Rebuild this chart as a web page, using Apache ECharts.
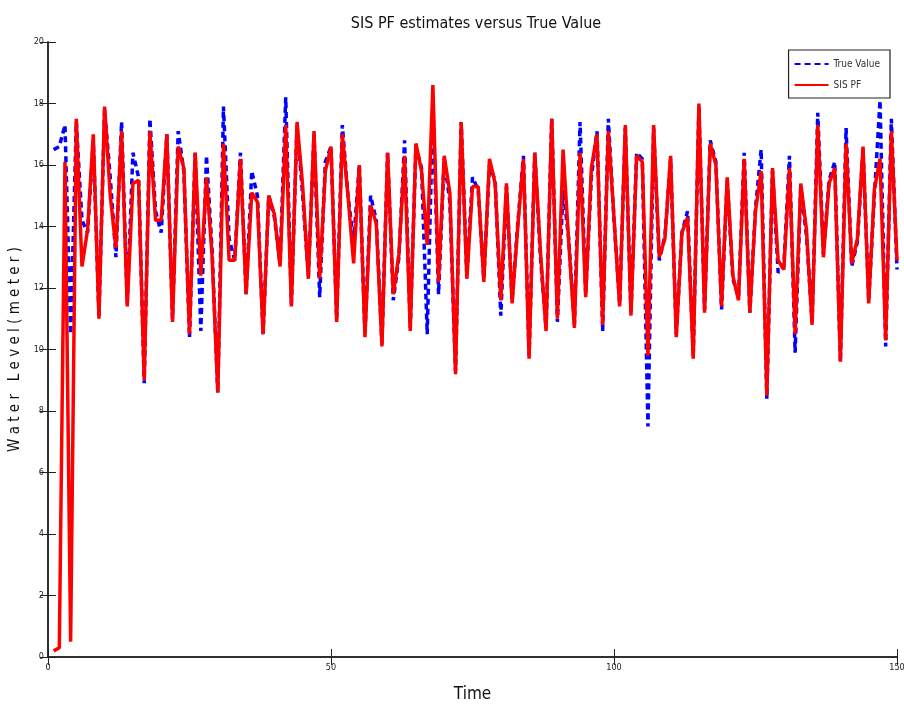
<!DOCTYPE html>
<html>
<head>
<meta charset="utf-8">
<script src="https://cdn.jsdelivr.net/npm/echarts@6/dist/echarts.min.js"></script>
<style>
html, body { margin: 0; padding: 0; background: #fff; }
#chart { width: 904px; height: 706px; }
</style>
</head>
<body>
<div id="chart"></div>
<script>
// time steps 1..150
var trueValue = [
  16.5, 16.6, 17.3, 10.5, 17.4, 14.2, 13.8, 16.8, 11.1, 17.8,
  15.6, 13.0, 17.4, 11.5, 16.4, 15.6, 8.9, 17.5, 14.5, 13.8,
  17.0, 11.0, 17.1, 15.8, 10.4, 16.4, 10.6, 16.3, 13.2, 8.6,
  17.9, 13.6, 12.9, 16.4, 11.8, 15.8, 15.0, 10.5, 15.0, 14.3,
  12.8, 18.2, 11.5, 17.3, 15.0, 12.4, 17.0, 11.7, 16.1, 16.6,
  11.0, 17.3, 15.0, 13.5, 16.0, 10.5, 15.0, 14.2, 10.2, 16.4,
  11.6, 13.0, 16.8, 10.7, 16.6, 15.9, 10.5, 17.9, 11.8, 16.2,
  14.8, 9.3, 17.4, 12.4, 15.6, 15.2, 12.3, 16.0, 15.5, 11.1,
  15.3, 11.6, 14.1, 16.3, 9.8, 16.4, 13.0, 10.7, 17.5, 10.9,
  15.2, 13.6, 10.8, 17.4, 11.8, 15.6, 17.1, 10.6, 17.5, 14.2,
  11.5, 17.2, 11.2, 16.4, 16.2, 7.5, 17.2, 12.9, 13.7, 16.2,
  10.5, 13.8, 14.5, 9.8, 17.9, 11.3, 16.8, 16.1, 11.3, 15.5,
  12.3, 11.7, 16.4, 11.2, 14.6, 16.5, 8.4, 15.8, 12.5, 12.7,
  16.3, 9.9, 15.3, 13.7, 10.9, 17.7, 13.1, 15.5, 16.1, 9.6,
  17.2, 12.7, 13.5, 16.5, 11.6, 15.0, 18.1, 10.1, 17.5, 12.6
];
var sisPF = [
  0.2, 0.3, 16.1, 0.5, 17.5, 12.7, 13.9, 17.0, 11.0, 17.9,
  15.0, 13.3, 17.1, 11.4, 15.4, 15.5, 9.0, 17.1, 14.2, 14.2,
  17.0, 10.9, 16.6, 15.9, 10.5, 16.4, 12.4, 15.6, 13.0, 8.6,
  16.7, 12.9, 12.9, 16.2, 11.8, 15.1, 14.8, 10.5, 15.0, 14.4,
  12.7, 17.3, 11.4, 17.4, 15.3, 12.3, 17.1, 12.3, 15.8, 16.6,
  10.9, 17.0, 15.0, 12.8, 16.0, 10.4, 14.7, 14.1, 10.1, 16.4,
  11.8, 13.1, 16.3, 10.6, 16.7, 15.8, 13.4, 18.6, 12.2, 16.3,
  15.1, 9.2, 17.4, 12.3, 15.3, 15.3, 12.2, 16.2, 15.4, 11.6,
  15.4, 11.5, 14.0, 16.2, 9.7, 16.4, 13.2, 10.6, 17.5, 11.0,
  16.5, 13.5, 10.7, 16.4, 11.7, 15.9, 17.0, 10.8, 17.1, 14.3,
  11.4, 17.3, 11.1, 16.3, 16.1, 9.8, 17.3, 13.0, 13.6, 16.3,
  10.4, 13.8, 14.3, 9.7, 18.0, 11.2, 16.7, 16.0, 11.4, 15.6,
  12.4, 11.6, 16.2, 11.2, 14.5, 15.8, 8.5, 15.9, 12.9, 12.6,
  15.9, 10.5, 15.4, 13.9, 10.8, 17.3, 13.0, 15.4, 15.9, 9.6,
  16.7, 12.8, 13.6, 16.6, 11.5, 15.2, 16.2, 10.3, 17.1, 12.9
];
var xTicks = [0, 50, 100, 150];
var yTicks = [0, 2, 4, 6, 8, 10, 12, 14, 16, 18, 20];

var trueData = [];
var pfData = [];
for (var i = 0; i < trueValue.length; i++) {
  trueData.push([i + 1, trueValue[i]]);
  pfData.push([i + 1, sisPF[i]]);
}

var narrow = '"Liberation Sans Narrow", "DejaVu Sans Condensed", "Liberation Sans", Arial, sans-serif';
var labelStyle = { color: '#222', fontSize: 9, fontFamily: narrow };

var chart = echarts.init(document.getElementById('chart'));
chart.setOption({
  animation: false,
  backgroundColor: '#fff',
  title: {
    text: 'SIS PF estimates versus True Value',
    left: 471,
    top: 11,
    textAlign: 'center',
    textStyle: { fontSize: 16, fontWeight: 'normal', color: '#111', fontFamily: narrow }
  },
  legend: {
    orient: 'vertical',
    right: 14,
    top: 50,
    itemWidth: 34,
    itemHeight: 10,
    itemGap: 11,
    padding: [9, 10, 8, 5],
    borderColor: '#222',
    borderWidth: 1.2,
    backgroundColor: '#fff',
    itemStyle: { opacity: 0 },
    textStyle: { fontSize: 10, color: '#333', fontFamily: narrow },
    data: ['True Value', 'SIS PF']
  },
  grid: { left: 48, right: 7, top: 42, bottom: 49, outerBoundsMode: 'none' },
  xAxis: [{
    type: 'value', min: 0, max: 150, interval: 50,
    name: 'Time', nameLocation: 'middle', nameGap: 29,
    nameTextStyle: { fontSize: 17, color: '#111', fontFamily: narrow },
    axisLine: { show: true, lineStyle: { color: '#222', width: 1.5 } },
    axisTick: { inside: true, length: 8, lineStyle: { color: '#222' } },
    axisLabel: Object.assign({ margin: 6 }, labelStyle),
    splitLine: { show: false }
  }, {
    type: 'value', min: 0, max: 150, interval: 50, position: 'top',
    axisLine: { show: true, lineStyle: { color: '#222', width: 1.5 } },
    axisTick: { inside: true, length: 8, lineStyle: { color: '#222' } },
    axisLabel: { show: false },
    splitLine: { show: false }
  }],
  yAxis: [{
    type: 'value', min: 0, max: 20, interval: 2,
    name: 'W a t e r   L e v e l ( m e t e r )', nameLocation: 'middle', nameGap: 17,
    nameTextStyle: { fontSize: 15, color: '#111', fontFamily: narrow },
    axisLine: { show: true, lineStyle: { color: '#222', width: 1.5 } },
    axisTick: { inside: true, length: 8, lineStyle: { color: '#222' } },
    axisLabel: Object.assign({ margin: 4 }, labelStyle),
    splitLine: { show: false }
  }, {
    type: 'value', min: 0, max: 20, interval: 2, position: 'right',
    axisLine: { show: true, lineStyle: { color: '#222', width: 1.5 } },
    axisTick: { inside: true, length: 8, lineStyle: { color: '#222' } },
    axisLabel: { show: false },
    splitLine: { show: false }
  }],
  series: [{
    name: 'True Value',
    type: 'line',
    data: trueData,
    showSymbol: false,
    symbol: 'none',
    color: '#0000ff',
    lineStyle: { color: '#0000ff', width: 3.5, type: [6, 4] }
  }, {
    name: 'SIS PF',
    type: 'line',
    data: pfData,
    showSymbol: false,
    symbol: 'none',
    color: '#ff0000',
    lineStyle: { color: '#ff0000', width: 3.5 }
  }]
});
</script>
</body>
</html>
